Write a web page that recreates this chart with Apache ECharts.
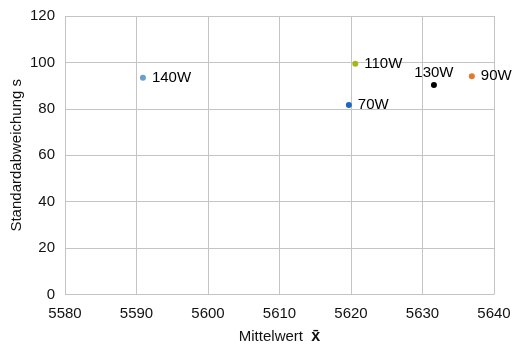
<!DOCTYPE html>
<html><head><meta charset="utf-8">
<script src="https://cdn.jsdelivr.net/npm/echarts@6/dist/echarts.min.js"></script>
<style>html,body{margin:0;padding:0;background:#fff}#c{width:512px;height:345px}</style>
</head><body><div id="c"></div>
<script>
const names = ['70W', '90W', '110W', '130W', '140W'];
const meanValues = [5619.7, 5636.9, 5620.6, 5631.6, 5590.9];
const sdValues = [81.7, 94.0, 99.4, 90.3, 93.4];
const colors = ['#1a68c2', '#e6782c', '#a7b51a', '#000000', '#6a9fcb'];
const labelPos = ['right', 'right', 'right', 'top', 'right'];

const chart = echarts.init(document.getElementById('c'));
const font = 'Liberation Sans, Arial, sans-serif';
chart.setOption({
  animation: false,
  grid: {left: 65, right: 18, top: 16, bottom: 50.5, containLabel: false, outerBoundsMode: 'none'},
  xAxis: {
    type: 'value', min: 5580, max: 5640, interval: 10,
    name: 'Mittelwert  {b|x\u0304}', nameLocation: 'middle', nameGap: 34,
    nameTextStyle: {color: '#111', fontSize: 15, fontFamily: font,
      rich: {b: {fontWeight: 'bold', fontSize: 16, color: '#111', fontFamily: font}}},
    axisLine: {show: false}, axisTick: {show: false},
    axisLabel: {color: '#111', fontSize: 15, fontFamily: font, margin: 12, formatter: v => String(v)},
    splitLine: {lineStyle: {color: '#c4c4c4', width: 1}}
  },
  yAxis: {
    type: 'value', min: 0, max: 120, interval: 20,
    name: 'Standardabweichung s', nameLocation: 'middle', nameGap: 41, nameMoveOverlap: false,
    nameTextStyle: {color: '#111', fontSize: 15, fontFamily: font},
    axisLine: {show: false}, axisTick: {show: false},
    axisLabel: {color: '#111', fontSize: 15, fontFamily: font, margin: 10},
    splitLine: {lineStyle: {color: '#c4c4c4', width: 1}}
  },
  series: names.map((n, i) => ({
    type: 'scatter', name: n, symbolSize: 6,
    itemStyle: {color: colors[i], opacity: 1},
    data: [[meanValues[i], sdValues[i]]],
    label: {show: true, formatter: n, position: labelPos[i], distance: labelPos[i] === 'top' ? 2 : 6,
      color: '#000', opacity: 1, fontSize: 15, fontFamily: font}
  }))
});
</script></body></html>
